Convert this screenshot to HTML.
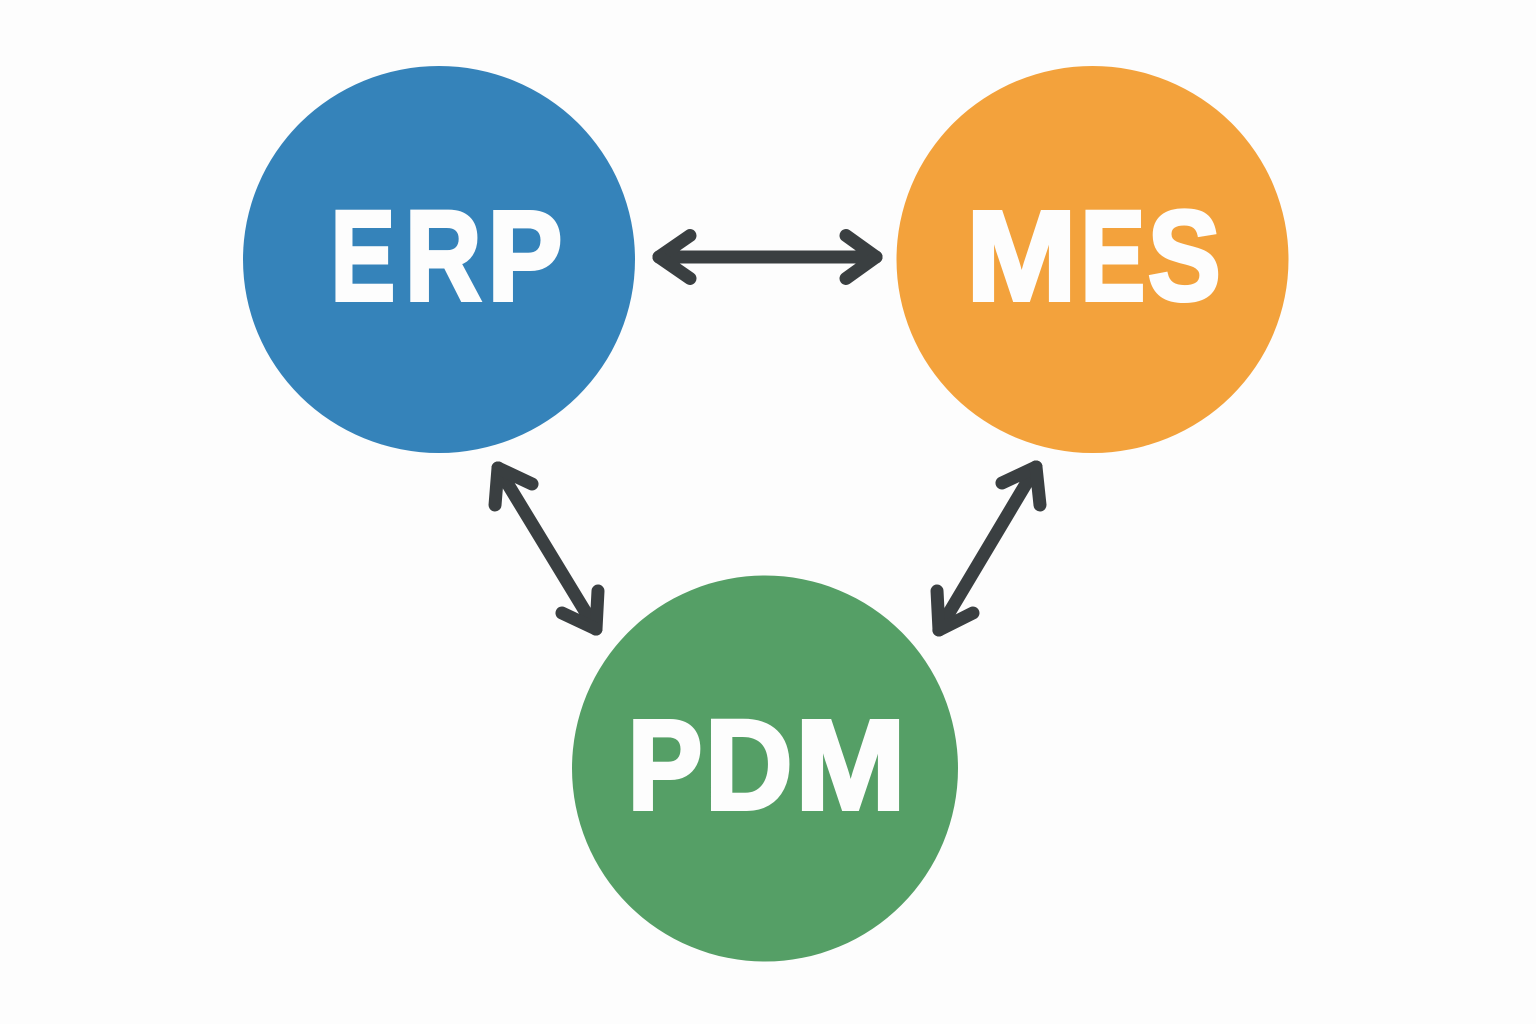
<!DOCTYPE html>
<html>
<head>
<meta charset="utf-8">
<style>
html,body{margin:0;padding:0;background:#FDFDFD}
svg{display:block}
text{font-family:"Liberation Sans",sans-serif;font-weight:700;fill:#FDFDFD;stroke:#FDFDFD;stroke-width:4;stroke-linejoin:miter}
.a rect{fill:#3A3F41}
</style>
</head>
<body>
<svg width="1536" height="1024" viewBox="0 0 1536 1024">
<rect width="1536" height="1024" fill="#FDFDFD"/>
<ellipse cx="439" cy="259.5" rx="196" ry="193.5" fill="#3583BA"/>
<ellipse cx="1092.5" cy="259.5" rx="196" ry="193.5" fill="#F3A23C"/>
<circle cx="765" cy="768.5" r="193" fill="#559F66"/>
<text y="300" font-size="128"><tspan x="330.5" textLength="64.7" lengthAdjust="spacingAndGlyphs">E</tspan><tspan x="404.9" textLength="76.7" lengthAdjust="spacingAndGlyphs">R</tspan><tspan x="487.5" textLength="74.9" lengthAdjust="spacingAndGlyphs">P</tspan></text>
<text y="300" font-size="128"><tspan x="966.1" textLength="110.8" lengthAdjust="spacingAndGlyphs">M</tspan><tspan x="1080.5" textLength="64.7" lengthAdjust="spacingAndGlyphs">E</tspan><tspan x="1147.7" textLength="73" lengthAdjust="spacingAndGlyphs">S</tspan></text>
<text y="809" font-size="128"><tspan x="627.5" textLength="74.9" lengthAdjust="spacingAndGlyphs">P</tspan><tspan x="704.8" textLength="87.9" lengthAdjust="spacingAndGlyphs">D</tspan><tspan x="795.1" textLength="110.8" lengthAdjust="spacingAndGlyphs">M</tspan></text>
<g class="a">
<g transform="translate(659 257)">
<rect x="-6.5" y="-6.5" width="230" height="13" rx="6.5"/>
<rect x="-6.5" y="-6.5" width="50.7" height="13" rx="6.5" transform="rotate(-34.7)"/>
<rect x="-6.5" y="-6.5" width="50.7" height="13" rx="6.5" transform="rotate(34.7)"/>
</g>
<g transform="translate(876 257)">
<rect x="-6.5" y="-6.5" width="49.9" height="13" rx="6.5" transform="rotate(215.6)"/>
<rect x="-6.5" y="-6.5" width="49.9" height="13" rx="6.5" transform="rotate(144.4)"/>
</g>
<g transform="translate(498 468)">
<rect x="-6.5" y="-6.5" width="201.500" height="13" rx="6.5" transform="rotate(58.7)"/>
<rect x="-6.5" y="-6.5" width="50.1" height="13" rx="6.5" transform="rotate(94.6)"/>
<rect x="-6.5" y="-6.5" width="50.6" height="13" rx="6.5" transform="rotate(25.2)"/>
</g>
<g transform="translate(596 629)">
<rect x="-6.5" y="-6.5" width="51" height="13" rx="6.5" transform="rotate(-87)"/>
<rect x="-6.5" y="-6.5" width="50.6" height="13" rx="6.5" transform="rotate(205.2)"/>
</g>
<g transform="translate(1036 467)">
<rect x="-6.5" y="-6.5" width="202.700" height="13" rx="6.5" transform="rotate(120.8)"/>
<rect x="-6.5" y="-6.5" width="50.6" height="13" rx="6.5" transform="rotate(154.8)"/>
<rect x="-6.5" y="-6.5" width="51.2" height="13" rx="6.5" transform="rotate(84)"/>
</g>
<g transform="translate(939 630)">
<rect x="-6.5" y="-6.5" width="52" height="13" rx="6.5" transform="rotate(-92.9)"/>
<rect x="-6.5" y="-6.5" width="51" height="13" rx="6.5" transform="rotate(-26.6)"/>
</g>
</g>
</svg>
</body>
</html>
